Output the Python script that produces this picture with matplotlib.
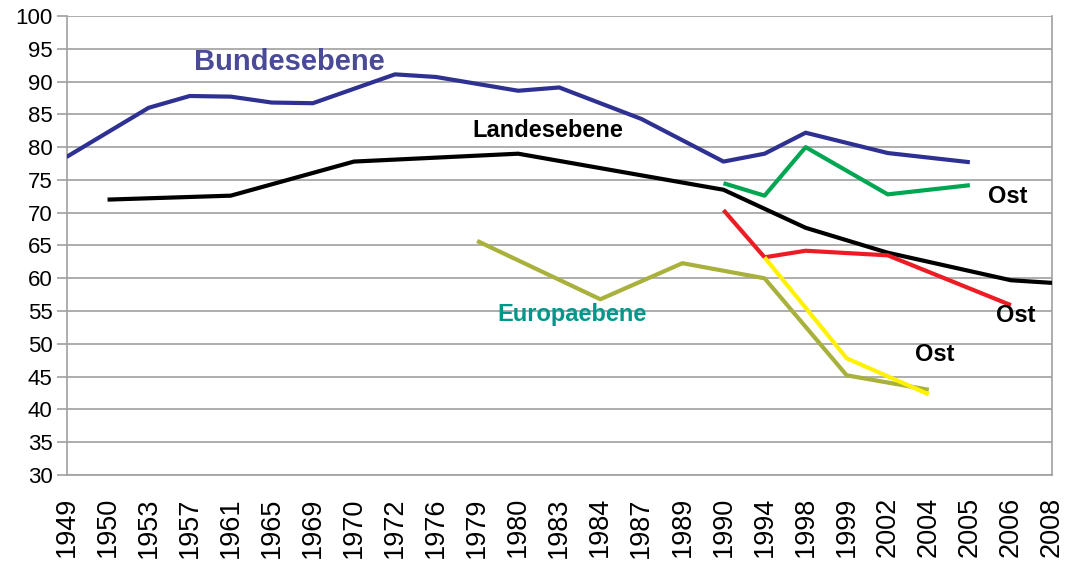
import numpy as np
import matplotlib
matplotlib.use("Agg")
import matplotlib.pyplot as plt

plt.rcParams['font.family'] = ['Liberation Sans', 'DejaVu Sans']

years = ["1949", "1950", "1953", "1957", "1961", "1965", "1969", "1970", "1972",
         "1976", "1979", "1980", "1983", "1984", "1987", "1989", "1990", "1994",
         "1998", "1999", "2002", "2004", "2005", "2006", "2008"]

bund_years = ["1949", "1953", "1957", "1961", "1965", "1969", "1972", "1976", "1980",
              "1983", "1987", "1990", "1994", "1998", "2002", "2005"]
bund_vals = [78.5, 86.0, 87.8, 87.7, 86.8, 86.7, 91.1, 90.7, 88.6, 89.1, 84.3,
             77.8, 79.0, 82.2, 79.1, 77.7]

land_years = ["1950", "1961", "1970", "1980", "1990", "1994", "1998", "2002", "2006", "2008"]
land_vals = [72.0, 72.6, 77.8, 79.0, 73.5, 70.6, 67.7, 63.9, 59.7, 59.3]

bund_ost_years = ["1990", "1994", "1998", "2002", "2005"]
bund_ost_vals = [74.5, 72.6, 80.0, 72.8, 74.2]

land_ost_years = ["1990", "1994", "1998", "2002", "2006"]
land_ost_vals = [70.4, 63.2, 64.2, 63.5, 55.9]

eu_years = ["1979", "1984", "1989", "1994", "1999", "2004"]
eu_vals = [65.7, 56.8, 62.3, 60.0, 45.2, 43.0]

eu_ost_years = ["1994", "1999", "2004"]
eu_ost_vals = [63.2, 47.8, 42.3]

yticks = list(range(30, 101, 5))

fig = plt.figure(figsize=(10.68, 5.66), dpi=100)
ax = fig.add_axes([66.5 / 1068, 1 - 475 / 566, (1052 - 66.5) / 1068, (475 - 16) / 566])

idx = {y: i for i, y in enumerate(years)}

def draw(yrs, vals, color):
    ax.plot([idx[y] for y in yrs], vals, color=color, lw=3.0, solid_capstyle='butt',
            solid_joinstyle='round', zorder=3)

draw(bund_years, bund_vals, "#2E3192")
draw(land_years, land_vals, "#000000")
draw(bund_ost_years, bund_ost_vals, "#00A651")
draw(land_ost_years, land_ost_vals, "#ED1C24")
draw(eu_years, eu_vals, "#A8B13C")
draw(eu_ost_years, eu_ost_vals, "#FFF200")

ax.set_xlim(0, len(years) - 1)
ax.set_ylim(30, 100)
ax.set_yticks(yticks)
ax.set_yticklabels([str(v) for v in yticks], fontsize=16)
ax.set_xticks(range(len(years)))
ax.set_xticklabels(years, rotation=90, fontsize=19.5, va='top', ha='center')
ax.tick_params(axis='x', length=0, pad=16)
ax.tick_params(axis='y', length=7, color='#A0A0A0', width=1.2, pad=3)
ax.grid(axis='y', color='#A0A0A0', lw=1.2, zorder=1)
for s in ['left', 'right', 'bottom', 'top']:
    ax.spines[s].set_color('#A0A0A0')
    ax.spines[s].set_linewidth(1.2)
ax.spines['top'].set_visible(False)

ax.text(5.42, 93.0, "Bundesebene", color="#4A4A96", fontsize=21, fontweight='bold',
        ha='center', va='center')
ax.text(11.73, 82.5, "Landesebene", color="#000000", fontsize=17, fontweight='bold',
        ha='center', va='center')
ax.text(12.31, 54.55, "Europaebene", color="#00968A", fontsize=17, fontweight='bold',
        ha='center', va='center')
ax.text(22.93, 72.4, "Ost", color="#000000", fontsize=17, fontweight='bold',
        ha='center', va='center')
ax.text(23.12, 54.4, "Ost", color="#000000", fontsize=17, fontweight='bold',
        ha='center', va='center')
ax.text(21.15, 48.45, "Ost", color="#000000", fontsize=17, fontweight='bold',
        ha='center', va='center')

fig.savefig("out.png", dpi=100)
